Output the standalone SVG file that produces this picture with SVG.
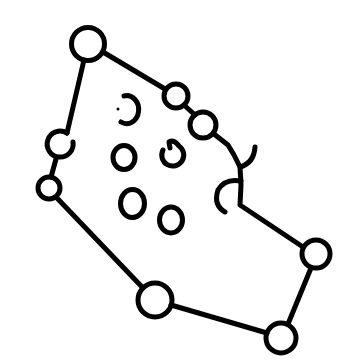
<svg xmlns="http://www.w3.org/2000/svg" width="344" height="364" viewBox="0 0 344 364">
<style>
.s{fill:none;stroke:#000;stroke-width:5;stroke-linecap:round;stroke-linejoin:round}
</style>
<rect width="344" height="364" fill="#fff"/>
<g id="connectors" class="s">
<path d="M103,52 L165,89"/>
<path d="M184,105 L195,115"/>
<path d="M214,134 L228,145 L234,155 L240,167 L241,185 L240,205 L303,247"/>
<path d="M240,167 Q254,163 255,147"/>
<path d="M241,181 Q225,178 218,190 Q213,205 225,212"/>
<path d="M311,268 L288,324"/>
<path d="M267,333 L171,305"/>
<path d="M143,288 L56,197"/>
<path d="M51,177 L56,159"/>
<path d="M67,133 L84,60"/>
</g>
<g id="n1"><circle class="s" cx="88" cy="44" r="16.5"/></g>
<g id="n2"><circle class="s" cx="176" cy="96" r="12"/></g>
<g id="n3"><circle class="s" cx="203" cy="125" r="13"/></g>
<g id="n4"><circle class="s" cx="316" cy="254" r="14"/></g>
<g id="n5"><circle class="s" cx="281" cy="338" r="15"/></g>
<g id="n6"><circle class="s" cx="155" cy="300" r="17"/></g>
<g id="n7"><circle class="s" cx="49" cy="188" r="11"/></g>
<g id="n8"><path class="s" d="M67,133 A13,13 0 1 0 73,142"/></g>
<g id="i1"><path class="s" d="M124,96 A12,14 0 1 1 121,122"/><circle cx="118" cy="109" r="1.5" fill="#000"/></g>
<g id="i2"><ellipse class="s" cx="124" cy="157.5" rx="11" ry="12"/></g>
<g id="i3"><path class="s" d="M163,150 A11,11 0 1 0 179,146 Q174,139 169,142 L170,148"/></g>
<g id="i4"><ellipse class="s" cx="132.5" cy="203.5" rx="12" ry="14"/></g>
<g id="i5"><ellipse class="s" cx="171" cy="220" rx="11.5" ry="13"/></g>
</svg>
